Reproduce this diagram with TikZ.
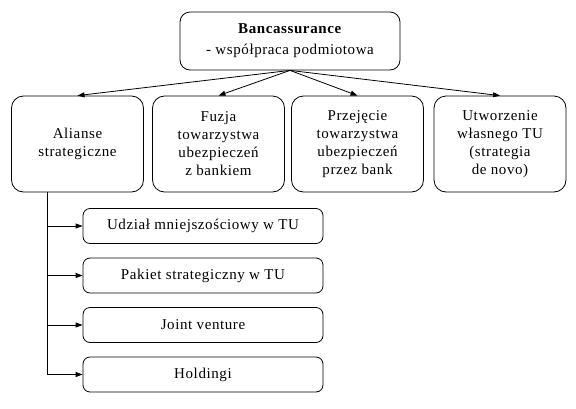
\documentclass[tikz,border=0pt]{standalone}
\usepackage{fontspec}
\setmainfont{Liberation Serif}[LetterSpace=4]
\usetikzlibrary{arrows.meta,positioning}

\begin{document}
\begin{tikzpicture}[x=1pt,y=-1pt,line width=0.8pt,
  every node/.style={font=\fontsize{15}{18}\selectfont},
  formbox/.style={draw,rounded corners=12pt,align=center,minimum width=132pt,minimum height=96pt,inner sep=2pt},
  subbox/.style={draw,rounded corners=7pt,align=center,minimum width=240pt,minimum height=35pt},
  arr/.style={-{Triangle[length=7pt,width=5pt]}}]
  \useasboundingbox (0,0) rectangle (576,408);
  % Top box
  \node[draw,rounded corners=10pt,align=center,minimum width=220pt,minimum height=58pt] (bank) at (290,41)
    {\textbf{Bancassurance}\\[3pt]- współpraca podmiotowa};
  % Forms of cooperation
  \node[formbox] (alianse) at (77.5,144) {Alianse\\strategiczne};
  \node[formbox] (fuzja) at (218.5,144) {Fuzja\\towarzystwa\\ubezpieczeń\\z bankiem};
  \node[formbox] (przejecie) at (357.5,144) {Przejęcie\\towarzystwa\\ubezpieczeń\\przez bank};
  \node[formbox] (utworzenie) at (500,144) {Utworzenie\\własnego TU\\(strategia\\de novo)};
  \foreach \n in {alianse,fuzja,przejecie,utworzenie}
    \draw[arr] (bank.south) -- (\n.north);
  % Strategic alliances
  \foreach \t [count=\i] in {Udział mniejszościowy w TU,Pakiet strategiczny w TU,Joint venture,Holdingi}
    \node[subbox] (sub\i) at (203,{226+49.5*(\i-1)}) {\t};
  \coordinate (trunk) at ([xshift=36pt]alianse.south west);
  \draw (trunk) -- (trunk |- sub4.west);
  \foreach \i in {1,...,4}
    \draw[arr] (trunk |- sub\i.west) -- (sub\i.west);
\end{tikzpicture}
\end{document}
